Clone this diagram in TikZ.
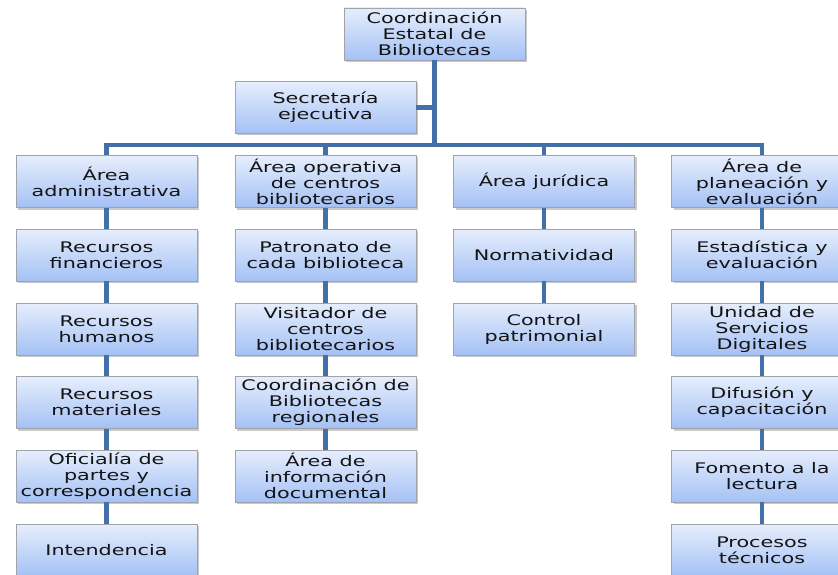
\documentclass[tikz,border=0pt]{standalone}
\usepackage{fontspec}
\setmainfont{DejaVu Sans}[FakeStretch=1.42]
\usetikzlibrary{shadows}
\definecolor{linkblue}{HTML}{4470A8}
\definecolor{boxtop}{HTML}{E6EEFC}
\definecolor{boxbot}{HTML}{A4C1F5}
\definecolor{boxline}{HTML}{A0A4AA}
\definecolor{txt}{HTML}{141414}
\tikzset{
  orgbox/.style={draw=boxline, line width=0.6pt, top color=boxtop, bottom color=boxbot,
    minimum width=181pt, minimum height=52pt, inner sep=0pt, align=center,
    text=txt, font=\fontsize{14.6}{16}\selectfont,
    drop shadow={shadow xshift=2pt, shadow yshift=-2pt, opacity=0.35, fill=black!60}},
  link/.style={draw=linkblue, line width=4.2pt}
}
\begin{document}
\begin{tikzpicture}[x=1pt,y=-1pt]
\clip (0,0) rectangle (838,575);
\fill[white] (0,0) rectangle (838,575);
% top
\node[orgbox] (top) at (434.5,34) {Coordinación\\Estatal de\\Bibliotecas};
\node[orgbox] (sec) at (325.5,107.5) {Secretaría\\ejecutiva};
% column 1
\node[orgbox] (a1) at (106.5,181.5) {Área\\administrativa};
\node[orgbox] (a2) at (106.5,255) {Recursos\\financieros};
\node[orgbox] (a3) at (106.5,329) {Recursos\\humanos};
\node[orgbox] (a4) at (106.5,402.5) {Recursos\\materiales};
\node[orgbox] (a5) at (106.5,476) {Oficialía de\\partes y\\correspondencia};
\node[orgbox] (a6) at (106.5,550) {Intendencia};
% column 2
\node[orgbox] (b1) at (325.5,181.5) {Área operativa\\de centros\\bibliotecarios};
\node[orgbox] (b2) at (325.5,255) {Patronato de\\cada biblioteca};
\node[orgbox] (b3) at (325.5,329) {Visitador de\\centros\\bibliotecarios};
\node[orgbox] (b4) at (325.5,402.5) {Coordinación de\\Bibliotecas\\regionales};
\node[orgbox] (b5) at (325.5,476) {Área de\\información\\documental};
% column 3
\node[orgbox] (c1) at (544,181.5) {Área jurídica};
\node[orgbox] (c2) at (544,255) {Normatividad};
\node[orgbox] (c3) at (544,329) {Control\\patrimonial};
% column 4
\node[orgbox] (d1) at (762,181.5) {Área de\\planeación y\\evaluación};
\node[orgbox] (d2) at (762,255) {Estadística y\\evaluación};
\node[orgbox] (d3) at (762,329) {Unidad de\\Servicios\\Digitales};
\node[orgbox] (d4) at (762,402.5) {Difusión y\\capacitación};
\node[orgbox] (d5) at (762,476) {Fomento a la\\lectura};
\node[orgbox] (d6) at (762,550) {Procesos\\técnicos};
% bus coordinates
\coordinate (busL) at (106.5,145);
\coordinate (busR) at (762,145);
\coordinate (busM) at (434.5,145);
% connectors
\draw[link] (top.south) -- (busM);
\draw[link] (sec.east) -- (sec.east -| top.south);
\draw[link, line cap=rect] (busL) -- (busR);
\draw[link] (busL) -- (a1.north);
\draw[link] (b1.north |- busL) -- (b1.north);
\draw[link] (c1.north |- busL) -- (c1.north);
\draw[link] (busR) -- (d1.north);
\foreach \u/\v in {a1/a2,a2/a3,a3/a4,a4/a5,a5/a6,b1/b2,b2/b3,b3/b4,b4/b5,c1/c2,c2/c3,d1/d2,d2/d3,d3/d4,d4/d5,d5/d6}
  \draw[link] (\u.south) -- (\v.north);
\end{tikzpicture}
\end{document}
